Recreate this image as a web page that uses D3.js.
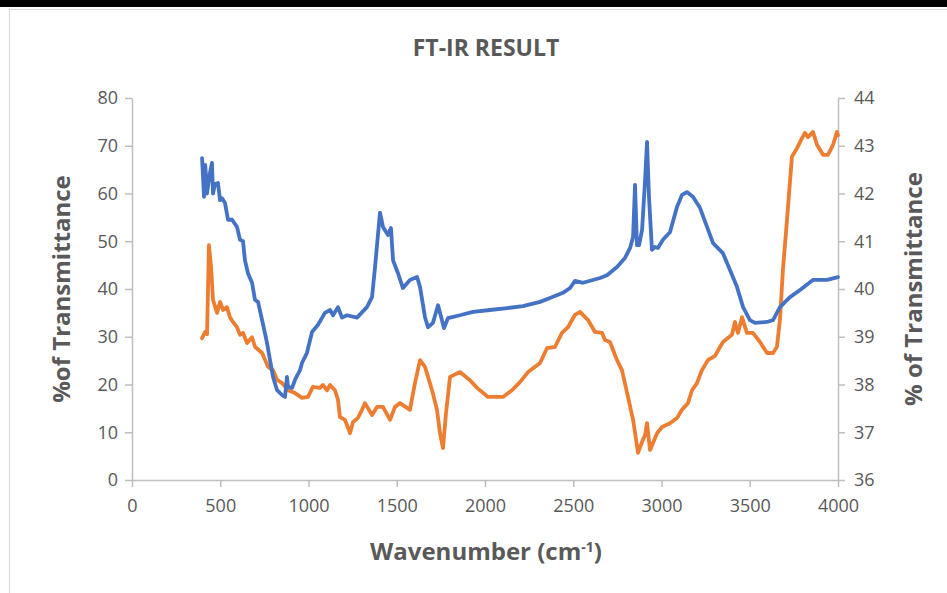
<!DOCTYPE html>
<html>
<head>
<meta charset="utf-8">
<script src="https://cdn.jsdelivr.net/npm/d3@7"></script>
<style>
  body { margin: 0; background: #fff; }
  text { font-family: "Open Sans", sans-serif; fill: #595959; }
</style>
</head>
<body>
<div id="chart"></div>
<script>
// blue series (left axis)
var blueWavenumber = [397,403,408,415,425,440,453,459,470,487,499,510,527,544,567,595,612,629,640,657,680,697,714,737,765,782,799,822,850,867,878,884,907,924,952,963,991,1020,1054,1093,1122,1139,1167,1190,1218,1275,1331,1360,1377,1405,1422,1450,1467,1479,1507,1535,1575,1615,1632,1660,1677,1705,1734,1768,1790,1858,1932,2028,2125,2215,2312,2368,2442,2482,2510,2555,2652,2691,2748,2793,2822,2839,2850,2861,2873,2890,2907,2918,2929,2946,2963,2980,3008,3048,3088,3116,3144,3178,3218,3258,3292,3348,3388,3428,3462,3501,3530,3598,3632,3671,3728,3785,3858,3938,4000];
var blueTransmittance = [67.4,63,59.3,66,60,64,66.4,60,62,62.2,58.6,59,58,54.5,54.5,53,50.3,50,46,43.3,41.3,37.7,37.3,33.5,28.7,25.1,21.6,18.8,17.8,17.4,21.6,19.5,19.3,21,23,24.5,26.6,31,32.5,35,35.6,34.5,36.2,34,34.5,34,36.2,38.3,44.6,56,53,51.3,52.8,46,43.3,40.2,41.9,42.5,40.4,34.1,32,32.9,36.6,31.8,33.9,34.5,35.2,35.6,36,36.4,37.3,38.1,39.2,40.2,41.7,41.3,42.3,42.9,44.6,46.5,48.6,50.9,61.8,49.2,49.2,52.4,62.8,70.8,59.3,48.2,48.8,48.6,50.3,51.9,57.2,59.7,60.3,59.3,57,53,49.6,47.5,44,40.4,36.2,33.5,32.9,33.1,33.5,36.2,38.3,39.8,41.9,41.9,42.5];

// orange series (right axis)
var orangeWavenumber = [397,414,425,436,448,459,482,499,516,538,555,572,595,612,629,652,680,697,737,771,799,822,850,884,924,963,997,1025,1065,1082,1105,1122,1150,1167,1178,1207,1235,1252,1280,1303,1320,1360,1388,1422,1462,1490,1518,1575,1603,1632,1660,1700,1728,1745,1762,1779,1802,1858,1915,1955,2017,2102,2153,2198,2244,2312,2351,2397,2436,2470,2510,2538,2584,2623,2663,2680,2708,2748,2776,2810,2839,2867,2890,2907,2918,2935,2975,3003,3048,3088,3116,3150,3173,3201,3229,3263,3303,3348,3399,3416,3433,3456,3484,3518,3558,3575,3598,3632,3654,3671,3688,3711,3739,3768,3796,3813,3830,3858,3881,3915,3943,3972,3994,4000];
var orangeTransmittance = [38.97,39.1,39.05,40.92,40.46,39.77,39.5,39.73,39.56,39.62,39.41,39.31,39.2,39.04,39.08,38.87,38.99,38.79,38.66,38.37,38.3,38.1,38.03,37.88,37.82,37.72,37.74,37.95,37.93,37.99,37.88,37.99,37.88,37.68,37.32,37.26,36.98,37.21,37.3,37.47,37.61,37.36,37.53,37.53,37.26,37.53,37.61,37.47,38.03,38.51,38.37,37.88,37.47,36.98,36.67,37.4,38.16,38.26,38.09,37.93,37.74,37.74,37.88,38.05,38.26,38.45,38.76,38.79,39.08,39.2,39.46,39.52,39.35,39.1,39.08,38.93,38.89,38.51,38.3,37.74,37.26,36.57,36.8,36.94,37.19,36.63,36.98,37.11,37.19,37.3,37.47,37.61,37.88,38.03,38.3,38.51,38.6,38.89,39.04,39.31,39.08,39.41,39.08,39.08,38.89,38.79,38.66,38.66,38.79,39.35,40.4,41.45,42.77,42.95,43.16,43.27,43.18,43.29,43.02,42.81,42.81,43.02,43.29,43.22];

var xTicks = [0,500,1000,1500,2000,2500,3000,3500,4000];
var leftTicks = [0,10,20,30,40,50,60,70,80];
var rightTicks = [36,37,38,39,40,41,42,43,44];

var W = 947, H = 593;
var plot = {left: 132, right: 838, top: 98, bottom: 480};

var svg = d3.select("#chart")
  .append("svg")
    .attr("width", W)
    .attr("height", H);

// frame bits
svg.append("rect")
  .attr("x", 9.5).attr("y", 9.5)
  .attr("width", W).attr("height", H)
  .attr("fill", "none")
  .attr("stroke", "#d9d9d9");
svg.append("rect")
  .attr("x", 0).attr("y", 0)
  .attr("width", W).attr("height", 7)
  .attr("fill", "#000");

var x = d3.scaleLinear().domain([0, 4000]).range([plot.left, plot.right]);
var yL = d3.scaleLinear().domain([0, 80]).range([plot.bottom, plot.top]);
var yR = d3.scaleLinear().domain([36, 44]).range([plot.bottom, plot.top]);

function styleAxis(g) {
  g.select(".domain").attr("stroke", "#bfbfbf").attr("stroke-width", 1.5);
  g.selectAll(".tick line").attr("stroke", "#bfbfbf").attr("stroke-width", 1.5);
  g.selectAll(".tick text")
    .style("font-family", "'Open Sans', sans-serif")
    .style("font-size", "18px")
    .attr("fill", "#595959");
}

// X axis
svg.append("g")
  .attr("transform", "translate(0," + plot.bottom + ")")
  .call(d3.axisBottom(x).tickValues(xTicks).tickFormat(d3.format("d")).tickSize(7).tickPadding(12).tickSizeOuter(0))
  .call(styleAxis);

// left Y axis
svg.append("g")
  .attr("transform", "translate(" + plot.left + ",0)")
  .call(d3.axisLeft(yL).tickValues(leftTicks).tickFormat(d3.format("d")).tickSize(7).tickPadding(7).tickSizeOuter(0))
  .call(styleAxis);

// right Y axis
svg.append("g")
  .attr("transform", "translate(" + plot.right + ",0)")
  .call(d3.axisRight(yR).tickValues(rightTicks).tickFormat(d3.format("d")).tickSize(7).tickPadding(9).tickSizeOuter(0))
  .call(styleAxis);

// lines
var blueData = blueWavenumber.map(function(d, i) { return [d, blueTransmittance[i]]; });
var orangeData = orangeWavenumber.map(function(d, i) { return [d, orangeTransmittance[i]]; });

svg.append("path")
  .datum(orangeData)
  .attr("fill", "none")
  .attr("stroke", "#ED7D31")
  .attr("stroke-width", 3.8)
  .attr("stroke-linejoin", "round")
  .attr("stroke-linecap", "round")
  .attr("d", d3.line().x(function(d) { return x(d[0]); }).y(function(d) { return yR(d[1]); }));

svg.append("path")
  .datum(blueData)
  .attr("fill", "none")
  .attr("stroke", "#4472C4")
  .attr("stroke-width", 3.8)
  .attr("stroke-linejoin", "round")
  .attr("stroke-linecap", "round")
  .attr("d", d3.line().x(function(d) { return x(d[0]); }).y(function(d) { return yL(d[1]); }));

// titles
svg.append("text")
  .attr("x", 486).attr("y", 56)
  .attr("text-anchor", "middle")
  .style("font-size", "23px")
  .style("font-weight", "bold")
  .text("FT-IR RESULT");

var xt = svg.append("text")
  .attr("x", 486).attr("y", 560)
  .attr("text-anchor", "middle")
  .style("font-size", "24px")
  .style("font-weight", "bold");
xt.append("tspan").text("Wavenumber (cm");
xt.append("tspan").attr("dy", -8).style("font-size", "14px").text("-1");
xt.append("tspan").attr("dy", 8).text(")");

svg.append("text")
  .attr("transform", "translate(70," + ((plot.top + plot.bottom) / 2) + ")rotate(-90)")
  .attr("text-anchor", "middle")
  .style("font-size", "24px")
  .style("font-weight", "bold")
  .text("%of Transmittance");

svg.append("text")
  .attr("transform", "translate(922," + ((plot.top + plot.bottom) / 2) + ")rotate(-90)")
  .attr("text-anchor", "middle")
  .style("font-size", "24px")
  .style("font-weight", "bold")
  .text("% of Transmittance");
</script>
</body>
</html>
